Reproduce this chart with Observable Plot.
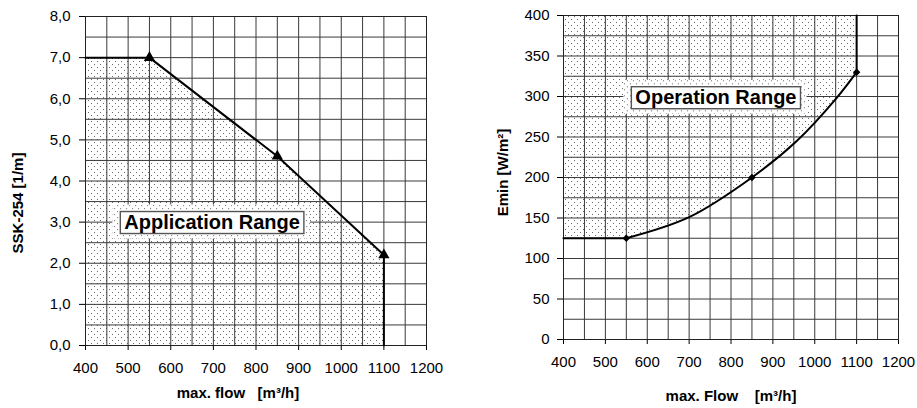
<!DOCTYPE html>
<html><head><meta charset="utf-8">
<script src="https://cdn.jsdelivr.net/npm/d3@7"></script>
<script src="https://cdn.jsdelivr.net/npm/@observablehq/plot@0.6"></script>
<style>
body{margin:0;background:#fff;}
#wrap{position:relative;width:917px;height:408px;overflow:hidden;}
#left,#right{position:absolute;top:0;}
#left{left:0;} #right{left:480px;}
</style></head><body><div id="wrap"><div id="left"></div><div id="right"></div></div>
<script>
// ---------- data ----------
const xTickValues = [400, 500, 600, 700, 800, 900, 1000, 1100, 1200];
const leftYTickValues = [0, 1, 2, 3, 4, 5, 6, 7, 8];
const rightYTickValues = [0, 50, 100, 150, 200, 250, 300, 350, 400];

// Application range (left chart): SSK-254 limit vs. max. flow
const appFlow = [400, 550, 850, 1100, 1100];
const appSSK  = [7.0, 7.0, 4.6, 2.2, 0.0];
const appMarkerFlow = [550, 850, 1100];
const appMarkerSSK  = [7.0, 4.6, 2.2];

// Operation range (right chart): Emin vs. max. flow
const opFlatFlow = [400, 550];
const opFlatEmin = [125, 125];
// boundary curve, points
const opCurveFlow = [550, 700, 850, 957, 1052, 1100];
const opCurveEmin = [125, 151, 200, 245, 298, 330];
const opMarkerFlow = [550, 850, 1100];
const opMarkerEmin = [125, 200, 330];
const opLimitFlow = [1100, 1100];
const opLimitEmin = [330, 400];

const leftLabelText = "Application Range";
const rightLabelText = "Operation Range";
const leftLabel = [{flow: 697, v: 3.0, text: leftLabelText}];
const rightLabel = [{flow: 764, v: 299, text: rightLabelText}];

// ---------- tables ----------
const zip = (xs, ys) => xs.map((x, i) => ({flow: x, v: ys[i]}));
const appLine = zip(appFlow, appSSK);
const appMarkers = zip(appMarkerFlow, appMarkerSSK);
const opFlat = zip(opFlatFlow, opFlatEmin);
const opCurve = zip(opCurveFlow, opCurveEmin);
const opMarkers = zip(opMarkerFlow, opMarkerEmin);
const opLimit = zip(opLimitFlow, opLimitEmin);

const FONT = '"Liberation Sans", Arial, sans-serif';
const GRID = "#3a3a3a";
const xGrid = d3.range(400, 1201, 50);
const yGridL = d3.range(0, 8.01, 0.5);
const yGridR = d3.range(0, 401, 25);
const nb = s => s.replace(/ /g, "\u00a0");

function addDefs(svg, id) {
  d3.select(svg).insert("defs", ":first-child").html(
    `<pattern id="${id}" width="6" height="6" patternUnits="userSpaceOnUse">
       <rect width="6" height="6" fill="#fff"/>
       <rect x="1" y="1" width="1" height="1" fill="#6a6a6a"/>
       <rect x="4" y="4" width="1" height="1" fill="#6a6a6a"/>
     </pattern>`);
}

function boxLabels(svg, id, label) {
  d3.select(svg).selectAll("text").filter(function () { return this.textContent === label; }).each(function () {
    const b = this.getBBox();
    const tr = this.getAttribute("transform");
    const parent = this.parentNode;
    const mk = () => document.createElementNS("http://www.w3.org/2000/svg", "rect");
    const outer = mk();
    outer.setAttribute("x", b.x - 12); outer.setAttribute("y", b.y - 6);
    outer.setAttribute("width", b.width + 22); outer.setAttribute("height", b.height + 12);
    outer.setAttribute("fill", `url(#${id})`);
    if (tr) outer.setAttribute("transform", tr);
    const box = mk();
    box.setAttribute("x", b.x - 4); box.setAttribute("y", b.y + 1);
    box.setAttribute("width", b.width + 8); box.setAttribute("height", b.height);
    box.setAttribute("fill", "#fff"); box.setAttribute("stroke", "#555"); box.setAttribute("stroke-width", 1.4);
    if (tr) box.setAttribute("transform", tr);
    parent.insertBefore(outer, this);
    parent.insertBefore(box, this);
  });
}

const titleStyle = {fontSize: 15, fontWeight: "bold", fill: "#000"};

// ---------- left chart ----------
const left = Plot.plot({
  width: 450, height: 408,
  marginLeft: 85, marginRight: 24, marginTop: 16, marginBottom: 63,
  style: {fontFamily: FONT, fontSize: "15px", color: "#000", background: "#fff"},
  x: {domain: [400, 1200], ticks: xTickValues, tickSize: 5, tickPadding: 12, label: null, tickFormat: d => String(d)},
  y: {domain: [0, 8], ticks: leftYTickValues, tickSize: 6, tickPadding: 9, label: null,
      tickFormat: d => d.toFixed(1).replace(".", ",")},
  marks: [
    Plot.areaY(appLine, {x: "flow", y1: 0, y2: "v", fill: "url(#dotsL)"}),
    Plot.ruleX(xGrid, {stroke: GRID, strokeWidth: 1}),
    Plot.ruleY(yGridL, {stroke: GRID, strokeWidth: 1}),
    Plot.frame({stroke: "#222"}),
    Plot.text(leftLabel, {x: "flow", y: "v", text: "text", fontSize: 20, fontWeight: "bold", fill: "#000"}),
    Plot.line(appLine, {x: "flow", y: "v", stroke: "#000", strokeWidth: 2}),
    Plot.dot(appMarkers, {x: "flow", y: "v", symbol: "triangle", r: 4.2, fill: "#000", stroke: "none"}),
    Plot.text([nb("max. flow   [m³/h]")], {frameAnchor: "bottom", text: d => d, dy: 52, dx: -18,
      textAnchor: "middle", ...titleStyle}),
    Plot.text(["SSK-254 [1/m]"], {frameAnchor: "left", text: d => d, rotate: -90, dx: -67, dy: 22,
      textAnchor: "middle", ...titleStyle})
  ]
});
document.getElementById("left").appendChild(left);
addDefs(left, "dotsL");
boxLabels(left, "dotsL", leftLabelText);

// ---------- right chart ----------
const right = Plot.plot({
  width: 437, height: 408,
  marginLeft: 83, marginRight: 19, marginTop: 15, marginBottom: 69,
  style: {fontFamily: FONT, fontSize: "15px", color: "#000", background: "#fff"},
  x: {domain: [400, 1200], ticks: xTickValues, tickSize: 5, tickPadding: 12, label: null, tickFormat: d => String(d)},
  y: {domain: [0, 400], ticks: rightYTickValues, tickSize: 6, tickPadding: 8, label: null},
  marks: [
    Plot.areaY(opFlat, {x: "flow", y1: "v", y2: 400, fill: "url(#dotsR)"}),
    Plot.areaY(opCurve, {x: "flow", y1: "v", y2: 400, fill: "url(#dotsR)", curve: "catmull-rom"}),
    Plot.ruleX(xGrid, {stroke: GRID, strokeWidth: 1}),
    Plot.ruleY(yGridR, {stroke: GRID, strokeWidth: 1}),
    Plot.frame({stroke: "#222"}),
    Plot.text(rightLabel, {x: "flow", y: "v", text: "text", fontSize: 20, fontWeight: "bold", fill: "#000"}),
    Plot.line(opFlat, {x: "flow", y: "v", stroke: "#000", strokeWidth: 2}),
    Plot.line(opCurve, {x: "flow", y: "v", stroke: "#000", strokeWidth: 2, curve: "catmull-rom"}),
    Plot.line(opLimit, {x: "flow", y: "v", stroke: "#000", strokeWidth: 2}),
    Plot.dot(opMarkers, {x: "flow", y: "v", symbol: "diamond2", r: 3.4, fill: "#000", stroke: "none"}),
    Plot.text([nb("max. Flow    [m³/h]")], {frameAnchor: "bottom", text: d => d, dy: 61, dx: 0,
      textAnchor: "middle", ...titleStyle}),
    Plot.text(["Emin [W/m²]"], {frameAnchor: "left", text: d => d, rotate: -90, dx: -60, dy: -5,
      textAnchor: "middle", ...titleStyle})
  ]
});
document.getElementById("right").appendChild(right);
addDefs(right, "dotsR");
boxLabels(right, "dotsR", rightLabelText);
</script>
</body></html>
